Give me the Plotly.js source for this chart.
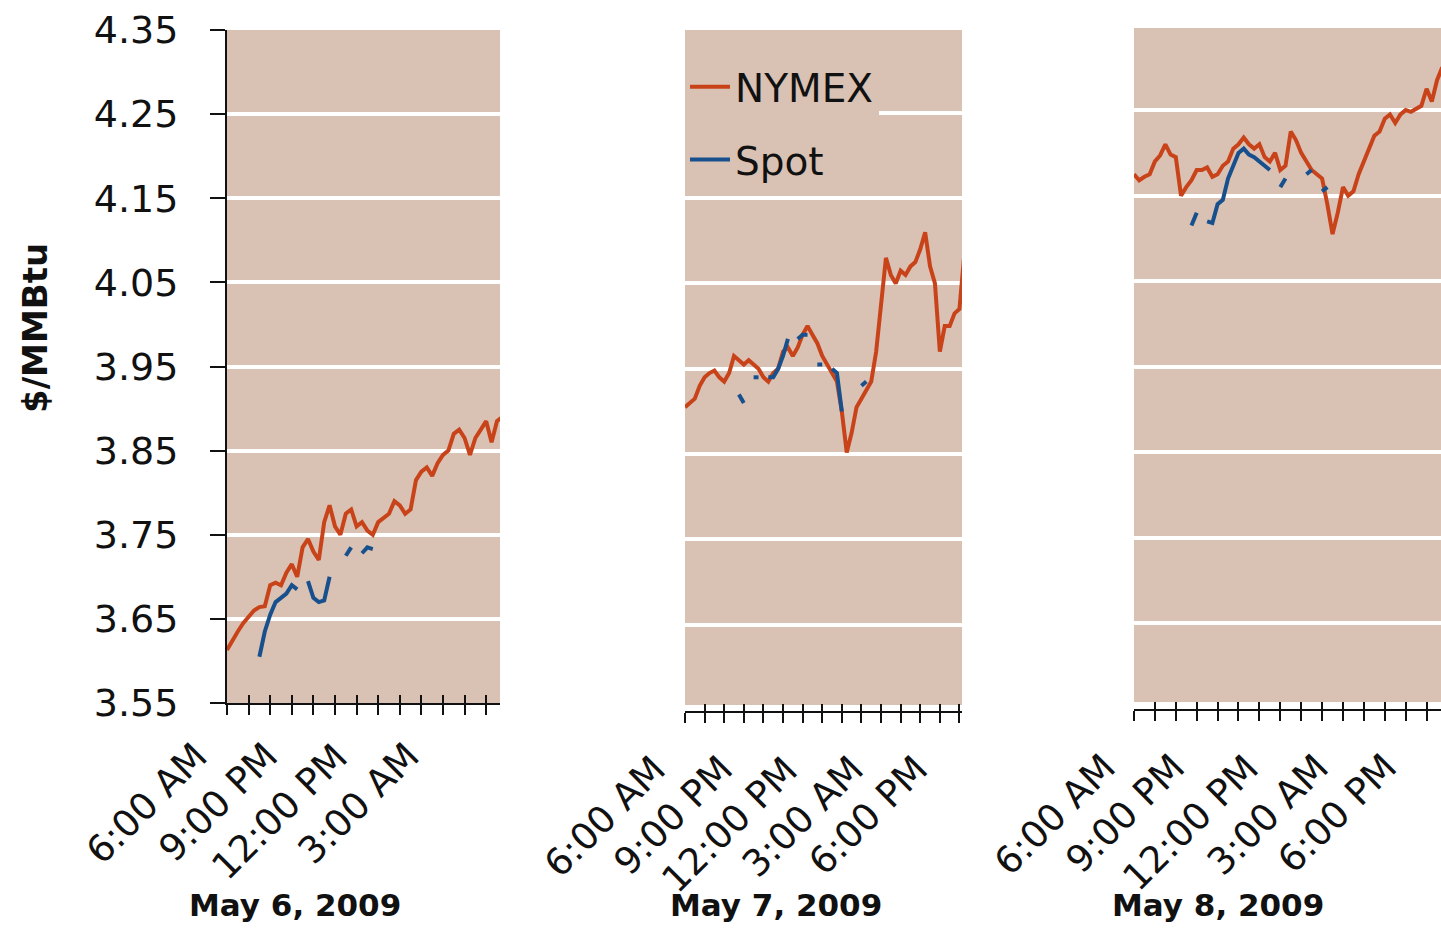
<!DOCTYPE html>
<html><head><meta charset="utf-8">
<script src="https://cdn.plot.ly/plotly-3.0.1.min.js"></script>
<style>html,body{margin:0;padding:0;background:#fff}#chart{width:1441px;height:929px}</style>
</head><body><div id="chart"></div>
<script>
// ---------- data ----------
const seriesNames = ['NYMEX', 'Spot'];
const dayLabels = ['May 6, 2009', 'May 7, 2009', 'May 8, 2009'];
const timeLabelsMay6 = ['6:00 AM', '9:00 PM', '12:00 PM', '3:00 AM'];
const timeLabelsMay7 = ['6:00 AM', '9:00 PM', '12:00 PM', '3:00 AM', '6:00 PM'];
const timeLabelsMay8 = ['6:00 AM', '9:00 PM', '12:00 PM', '3:00 AM', '6:00 PM'];
// label positions on each day's time axis (in tick units)
const labelPosMay6 = [-0.8, 2.45, 5.7, 9.0];
const labelPosMay7 = [-0.87, 2.55, 5.87, 9.23, 12.5];
const labelPosMay8 = [-0.77, 2.54, 6.08, 9.43, 12.68];
const yTickValues = [3.55, 3.65, 3.75, 3.85, 3.95, 4.05, 4.15, 4.25, 4.35];
const yTitle = '$/MMBtu';
const sampleStep = 0.25; // time between samples, in tick units

const nymexMay6 = [3.613,3.625,3.635,3.645,3.652,3.66,3.664,3.665,3.69,3.693,3.69,3.705,3.715,3.70,3.735,3.745,3.73,3.72,3.765,3.785,3.76,3.75,3.775,3.78,3.76,3.765,3.755,3.75,3.765,3.77,3.775,3.79,3.785,3.775,3.78,3.815,3.825,3.83,3.82,3.835,3.845,3.85,3.87,3.875,3.865,3.845,3.865,3.875,3.885,3.86,3.885,3.89];
const spotMay6 = [null,null,null,null,null,null,3.605,3.635,3.655,3.67,3.675,3.68,3.69,3.685,null,3.695,3.675,3.67,3.672,3.70,null,null,3.725,3.735,null,3.728,3.735,3.733,null,null,null,null,null,null,null,null,null,null,null,null,null,null,null,null,null,null,null,null,null,null,null,null];

const nymexMay7 = [3.905,3.91,3.915,3.93,3.94,3.945,3.948,3.94,3.935,3.945,3.965,3.96,3.955,3.96,3.955,3.95,3.94,3.935,3.945,3.95,3.97,3.975,3.965,3.975,3.99,4.0,3.99,3.98,3.965,3.955,3.945,3.935,3.90,3.852,3.875,3.905,3.915,3.925,3.935,3.97,4.02,4.08,4.06,4.05,4.065,4.06,4.07,4.075,4.09,4.11,4.07,4.05,3.97,4.0,4.0,4.015,4.02,4.085];
const spotMay7 = [null,null,null,null,null,null,null,null,null,null,null,3.92,3.91,null,3.94,3.94,null,3.94,3.94,3.95,3.965,3.985,null,3.985,3.99,3.99,null,3.955,3.955,null,3.95,3.945,3.90,null,null,null,3.93,3.935,null,null,null,null,null,null,null,null,null,null,null,null,null,null,null,null,null,null,null,null];

const nymexMay8 = [4.175,4.168,4.172,4.175,4.19,4.197,4.21,4.198,4.195,4.15,4.16,4.168,4.18,4.18,4.183,4.172,4.175,4.185,4.19,4.205,4.21,4.218,4.21,4.205,4.21,4.195,4.19,4.2,4.18,4.185,4.225,4.215,4.2,4.19,4.18,4.175,4.17,4.14,4.105,4.13,4.16,4.15,4.155,4.175,4.19,4.205,4.22,4.225,4.24,4.245,4.235,4.245,4.25,4.248,4.252,4.255,4.275,4.26,4.285,4.3];
const spotMay8 = [null,null,null,null,null,null,null,null,null,null,null,4.115,4.13,null,4.12,4.118,4.14,4.145,4.17,4.185,4.2,4.205,4.198,4.195,4.19,4.185,4.18,null,4.16,4.17,null,null,null,4.175,4.18,null,4.155,4.16,null,null,null,null,null,null,null,null,null,null,null,null,null,null,null,null,null,null,null,null,null,null];

// ---------- styling ----------
const FONT = 'DejaVu Sans, sans-serif';
const TAN = '#d9c2b3';
const NYMEX_COLOR = '#c9431a';
const SPOT_COLOR = '#17508d';
const INK = '#111111';

const days = [
  {nymex: nymexMay6, spot: spotMay6, x: 'x',  y: 'y',  over: 'x4', span: 12.64, labels: timeLabelsMay6, pos: labelPosMay6, labelTop: 744},
  {nymex: nymexMay7, spot: spotMay7, x: 'x2', y: 'y2', over: 'x5', span: 14.13, labels: timeLabelsMay7, pos: labelPosMay7, labelTop: 757},
  {nymex: nymexMay8, spot: spotMay8, x: 'x3', y: 'y3', over: 'x6', span: 14.69, labels: timeLabelsMay8, pos: labelPosMay8, labelTop: 755}
];
const timeOf = arr => arr.map((_, i) => i * sampleStep);

const traces = [];
days.forEach((d, k) => {
  traces.push({type: 'scatter', mode: 'lines', name: seriesNames[0], legendgroup: 'n', showlegend: k === 0,
    x: timeOf(d.nymex), y: d.nymex, xaxis: d.x, yaxis: d.y, connectgaps: false,
    line: {color: NYMEX_COLOR, width: 4}, hoverinfo: 'skip'});
  traces.push({type: 'scatter', mode: 'lines', name: seriesNames[1], legendgroup: 's', showlegend: k === 0,
    x: timeOf(d.spot), y: d.spot, xaxis: d.x, yaxis: d.y, connectgaps: false,
    line: {color: SPOT_COLOR, width: 4}, hoverinfo: 'skip'});
  // empty trace so the overlaid tick axis (upper half of the cross ticks) is drawn
  traces.push({type: 'scatter', mode: 'lines', x: [], y: [], xaxis: d.over, yaxis: d.y, showlegend: false, hoverinfo: 'skip'});
});

const W = 1441, H = 929;
const px = v => v / W, py = v => 1 - v / H;
const range = n => Array.from({length: n}, (_, i) => i);

const xBase = {showticklabels: false, ticks: 'outside', ticklen: 10, tickwidth: 2, tickcolor: INK,
  showline: true, linecolor: INK, linewidth: 2, showgrid: false, zeroline: false, fixedrange: true};
const xInside = {showticklabels: false, ticks: 'inside', ticklen: 8, tickwidth: 2, tickcolor: INK,
  showline: false, showgrid: false, zeroline: false, fixedrange: true};
const yBase = {tickvals: yTickValues, gridcolor: '#ffffff', gridwidth: 4, zeroline: false, fixedrange: true};

const annotations = [];
days.forEach((d, k) => {
  d.labels.forEach((t, j) => annotations.push({
    text: t, xref: d.x + ' domain', yref: 'paper', x: d.pos[j] / d.span, y: py(d.labelTop),
    xanchor: 'right', yanchor: 'top', textangle: -45, showarrow: false,
    xshift: 9, yshift: 12,
    font: {family: FONT, size: 37, color: INK}
  }));
});
const dayCenters = [295, 776, 1218];
dayLabels.forEach((t, k) => annotations.push({
  text: t, xref: 'paper', yref: 'paper', x: px(dayCenters[k]), y: py(905),
  xanchor: 'center', yanchor: 'middle', showarrow: false,
  font: {family: FONT, size: 31, color: INK, weight: 'bold'}
}));
annotations.push({
  text: yTitle, xref: 'paper', yref: 'paper', x: px(35), y: py(328),
  xanchor: 'center', yanchor: 'middle', textangle: -90, showarrow: false,
  font: {family: FONT, size: 34, color: INK, weight: 'bold'}
});

const layout = {
  width: W, height: H, margin: {l: 0, r: 0, t: 0, b: 0},
  paper_bgcolor: '#ffffff', plot_bgcolor: TAN,
  showlegend: true,
  legend: {x: px(685), y: py(55), xanchor: 'left', yanchor: 'top', bgcolor: TAN,
    font: {family: FONT, size: 39, color: INK}, tracegroupgap: 19, itemwidth: 40},
  xaxis: Object.assign({}, xBase, {domain: [px(227), px(500)], range: [0, 12.64], tickvals: range(13), anchor: 'y'}),
  xaxis2: Object.assign({}, xBase, {domain: [px(685), px(962)], range: [0, 14.13], tickvals: range(15), anchor: 'free', position: py(712)}),
  xaxis3: Object.assign({}, xBase, {domain: [px(1134), 1], range: [0, 14.69], tickvals: range(15), anchor: 'free', position: py(710)}),
  xaxis4: Object.assign({}, xInside, {overlaying: 'x', range: [0, 12.64], tickvals: range(13), anchor: 'y'}),
  xaxis5: Object.assign({}, xInside, {overlaying: 'x2', range: [0, 14.13], tickvals: range(15), anchor: 'free', position: py(712)}),
  xaxis6: Object.assign({}, xInside, {overlaying: 'x3', range: [0, 14.69], tickvals: range(15), anchor: 'free', position: py(710)}),
  yaxis: Object.assign({}, yBase, {domain: [py(703), py(30)], range: [3.55, 4.35], anchor: 'x',
    tickformat: '.2f', ticks: 'outside', ticklen: 15, tickwidth: 2, tickcolor: INK,
    showline: true, linecolor: INK, linewidth: 2, ticklabelstandoff: 24,
    tickfont: {family: FONT, size: 38, color: INK}}),
  yaxis2: Object.assign({}, yBase, {domain: [py(705), py(30)], range: [3.556, 4.347], anchor: 'x2',
    showticklabels: false, ticks: '', showline: false}),
  yaxis3: Object.assign({}, yBase, {domain: [py(702), py(28)], range: [3.558, 4.346], anchor: 'x3',
    showticklabels: false, ticks: '', showline: false}),
  annotations: annotations
};

Plotly.newPlot('chart', traces, layout, {displayModeBar: false, staticPlot: true});
</script>
</body></html>
